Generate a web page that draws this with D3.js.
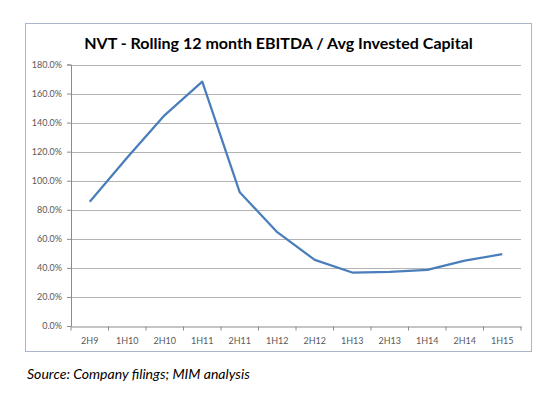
<!DOCTYPE html>
<html>
<head>
<meta charset="utf-8">
<script src="https://cdn.jsdelivr.net/npm/d3@7/dist/d3.min.js"></script>
<style>
	body { margin: 0; background: #fff; }
	svg { display: block; }
</style>
</head>
<body>
<div id="chart"></div>
<script>
// periods and rolling EBITDA / avg invested capital (%)
const periods = ["2H9", "1H10", "2H10", "1H11", "2H11", "1H12", "2H12", "1H13", "2H13", "1H14", "2H14", "1H15"];
const ratio = [85.5, 116, 145.2, 168.2, 92, 64.6, 45.5, 36.8, 37.3, 38.6, 45, 49.4];
const yTicks = [0, 20, 40, 60, 80, 100, 120, 140, 160, 180];

const width = 546, height = 396;
const frame = {left: 25.5, top: 23.5, right: 531.5, bottom: 351.5};
const margin = {top: 64.5, right: 25, bottom: 70, left: 71};
const font = "Lato, 'Open Sans', sans-serif";

let svg = d3.select("#chart").append("svg")
	.attr("width", width)
	.attr("height", height);

// chart frame
svg.append("rect")
	.attr("x", frame.left)
	.attr("y", frame.top)
	.attr("width", frame.right - frame.left)
	.attr("height", frame.bottom - frame.top)
	.attr("fill", "#fff")
	.attr("stroke", "#a7b6c9")
	.attr("stroke-width", 1);

let x = d3.scaleBand()
	.domain(periods)
	.range([margin.left, width - margin.right]);

let y = d3.scaleLinear()
	.domain([0, 180])
	.range([height - margin.bottom, margin.top]);

// gridlines
svg.append("g")
	.selectAll("line")
	.data(yTicks.filter(d => d > 0))
	.enter().append("line")
	.attr("x1", margin.left)
	.attr("x2", width - margin.right)
	.attr("y1", d => Math.round(y(d)) + 0.5)
	.attr("y2", d => Math.round(y(d)) + 0.5)
	.attr("stroke", "#b3b3b3")
	.attr("stroke-width", 1);

let yAxis = g => g
	.attr("transform", `translate(${margin.left},0)`)
	.call(d3.axisLeft(y).tickValues(yTicks).tickSize(4).tickPadding(5)
		.tickFormat(d => d.toFixed(1) + "%"))
	.call(g => g.select(".domain").attr("stroke", "#8c8c8c"))
	.call(g => g.selectAll(".tick line").attr("stroke", "#8c8c8c"))
	.call(g => g.selectAll(".tick text").attr("fill", "#595959"));

let xAxis = g => g
	.attr("transform", `translate(0,${Math.round(y(0)) + 0.5})`)
	.call(d3.axisBottom(x).tickSize(0).tickPadding(11))
	.call(g => g.select(".domain").attr("stroke", "#8c8c8c"))
	.call(g => g.selectAll(".tick text").attr("fill", "#595959"));

svg.append("g")
	.style("font", `9px ${font}`)
	.call(yAxis);

let xg = svg.append("g")
	.style("font", `9px ${font}`)
	.call(xAxis);

// tick marks between categories
xg.selectAll(".sep")
	.data(d3.range(periods.length + 1))
	.enter().append("line")
	.attr("x1", i => margin.left + i * x.step())
	.attr("x2", i => margin.left + i * x.step())
	.attr("y1", 0)
	.attr("y2", 4)
	.attr("stroke", "#8c8c8c");

let line = d3.line()
	.x((d, i) => x(periods[i]) + x.bandwidth() / 2)
	.y(d => y(d));

svg.append("path")
	.datum(ratio)
	.attr("fill", "none")
	.attr("stroke", "#4a7ebb")
	.attr("stroke-width", 2.25)
	.attr("stroke-linejoin", "round")
	.attr("d", line);

let title = svg.append("text")
	.attr("x", (frame.left + frame.right) / 2)
	.attr("y", 48.5)
	.attr("text-anchor", "middle")
	.style("font", `bold 17px ${font}`)
	.attr("fill", "#000")
	.text("NVT - Rolling 12 month EBITDA / Avg Invested Capital");
let tw = title.node().getComputedTextLength();
if (tw > 0) title.style("font-size", (17 * 389 / tw).toFixed(2) + "px");

let src = svg.append("text")
	.attr("x", 27)
	.attr("y", 379)
	.style("font", `italic 14px ${font}`)
	.attr("fill", "#000")
	.text("Source: Company filings; MIM analysis");
let sw = src.node().getComputedTextLength();
if (sw > 0) src.style("font-size", (14 * 223 / sw).toFixed(2) + "px");
</script>
</body>
</html>
